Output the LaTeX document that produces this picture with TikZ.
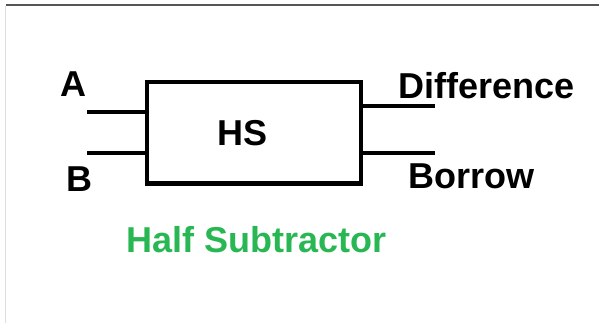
\documentclass[tikz,border=0pt]{standalone}
\usepackage{fontspec}
\setmainfont{Liberation Sans}
\definecolor{titlegreen}{RGB}{41,183,84}
\definecolor{framegray}{RGB}{85,85,85}
\definecolor{edgegray}{RGB}{221,221,221}
\tikzset{
  wire/.style={line width=4pt},
  pinlabel/.style={anchor=base west, inner sep=0pt, font=\fontsize{36}{42}\selectfont\bfseries}
}
\begin{document}
\begin{tikzpicture}[x=1pt, y=-1pt]
  \useasboundingbox (0,0) rectangle (599,323);

  % Frame edges
  \draw[framegray, line width=2pt] (6,5) -- (599,5);
  \draw[edgegray, line width=1.5pt] (5.5,6) -- (5.5,323);

  % Define the block and the wire ends
  \node[draw, line width=4pt, minimum width=214pt, minimum height=101pt, inner sep=0pt] (hs) at (254,133) {};
  \node[pinlabel] (hstext) at (217,146) {HS};
  \coordinate (ina) at (87,112);
  \coordinate (inb) at (87,153);
  \coordinate (outd) at (435,106);
  \coordinate (outb) at (435,153);

  % Draw the wires
  \draw[wire] (ina) -- (ina -| hs.west);
  \draw[wire] (inb) -- (inb -| hs.west);
  \draw[wire] (hs.east |- outd) -- (outd);
  \draw[wire] (hs.east |- outb) -- (outb);

  % Label the pins
  \node[pinlabel] (la) at (60,97) {A};
  \node[pinlabel] (lb) at (66,192) {B};
  \node[pinlabel] (ld) at (398,99) {Difference};
  \node[pinlabel] (lbo) at (408,189) {Borrow};

  % Title text
  \node[pinlabel, text=titlegreen] (title) at (126,252) {Half Subtractor};
\end{tikzpicture}
\end{document}
